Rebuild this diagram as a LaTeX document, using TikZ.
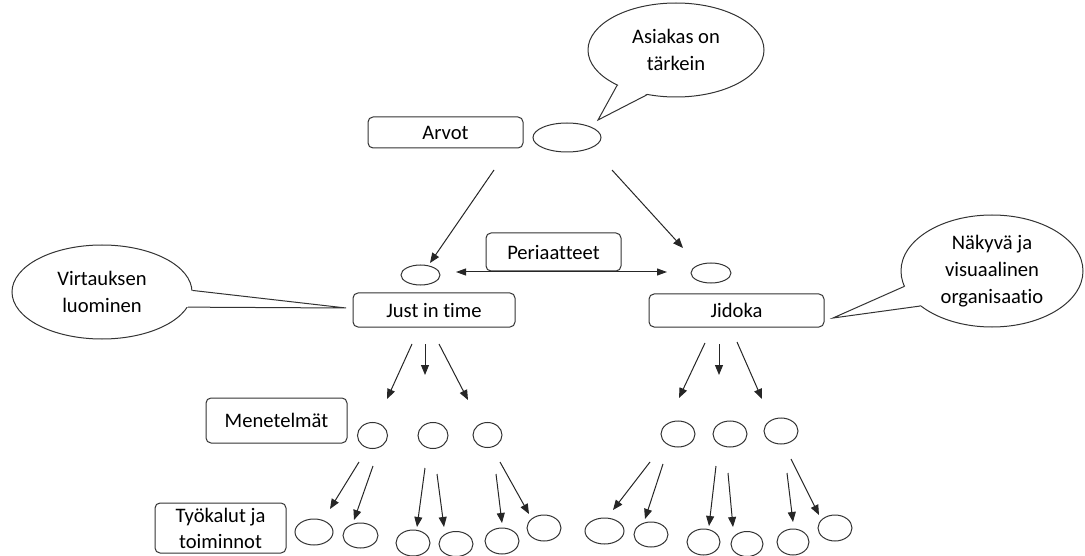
\documentclass[tikz,border=0pt]{standalone}
\usepackage{fontspec}
\setmainfont{Carlito}[Ligatures=NoCommon]
\usetikzlibrary{shapes.geometric,arrows.meta,calc}
\begin{document}
\begin{tikzpicture}[x=1pt,y=-1pt,
  outline/.style={draw=black!80, line width=1pt},
  labelbox/.style={outline, rounded corners=5pt, inner sep=0pt, align=center,
    font=\fontsize{20.6}{26}\selectfont},
  bubble/.style={outline, ellipse, inner sep=0pt, fill=white, align=center,
    font=\fontsize{20.6}{27}\selectfont},
  dot/.style={outline, ellipse, inner sep=0pt},
  arr/.style={line width=1pt, draw=black!85, -{Triangle[length=10pt,width=8pt]}},
  dblarr/.style={line width=1pt, draw=black!85,
    {Triangle[length=10pt,width=7pt]}-{Triangle[length=10pt,width=7pt]}},
]
\useasboundingbox (0,0) rectangle (1085,556);

% level labels
\node[labelbox, minimum width=155pt, minimum height=31pt] (arvot) at (445.5,132.5) {Arvot};
\node[labelbox, minimum width=135pt, minimum height=38pt] (periaatteet) at (553.5,252) {Periaatteet};
\node[labelbox, minimum width=162pt, minimum height=34pt] (jit) at (434,310) {Just in time};
\node[labelbox, minimum width=175pt, minimum height=33pt] (jidoka) at (736.5,310.5) {Jidoka};
\node[labelbox, minimum width=141pt, minimum height=45pt] (menetelmat) at (276.5,420.5) {Menetelmät};
\node[labelbox, minimum width=131pt, minimum height=50pt] (tyokalut) at (220.5,528) {Työkalut ja\\toiminnot};

% small ellipses
\node[dot, minimum width=68pt, minimum height=29pt] (vtop) at (567,137.5) {};
\node[dot, minimum width=39pt, minimum height=20pt] (vjit) at (420.5,275) {};
\node[dot, minimum width=40pt, minimum height=20pt] (vjid) at (711,273) {};

\foreach \n/\cx/\cy/\w/\h in {
  ml1/372.5/435.5/30/26, ml2/433/435.5/30/26, ml3/487.5/435/29/25,
  mr1/678/434/34/26, mr2/730/434/34/26, mr3/781/431/34/26,
  bl1/314/532/38/26, bl2/360.5/535.5/35/25, bl3/413/543/34/26,
  bl4/456/544/34/25, bl5/502/541/34/26, bl6/544/528/34/26,
  br1/604.5/531/39/26, br2/651/534.5/34/25, br3/703.5/542/33/26,
  br4/747/544/32/25, br5/793/542/32/26, br6/835/528/34/26}
  \node[dot, minimum width=\w pt, minimum height=\h pt] (\n) at (\cx,\cy) {};

% arrows
\foreach \n/\sx/\sy/\ex/\ey in {
  t1/494/170/430/263, t2/612/170/683/248,
  j1/412/344/387/399, j2/425/344/425/375, j3/439/344/468/400,
  k1/705/343/679/398, k2/719/344/719/375, k3/737/342/762/399,
  l1/359/462/330/509, l2/373/466/354/520, l3/425/468/417/527,
  l4/437/474/444/527, l5/496/474/502/523, l6/500/462/529/514,
  r1/650/462/613/510, r2/663/464/645/519, r3/716/466/709/526,
  r4/728/473/733/527, r5/787/473/793/522, r6/791/459/819/515}
{
  \coordinate (s\n) at (\sx,\sy);
  \coordinate (e\n) at (\ex,\ey);
  \draw[arr] (s\n) -- (e\n);
}
\coordinate (pl) at (456,272);
\coordinate (pr) at (667,272);
\draw[dblarr] (pl) -- (pr);

% speech bubbles
\node[bubble, minimum width=176pt, minimum height=94pt] (asiakas) at (676,50) {Asiakas on\\tärkein};
\coordinate (asiakastip) at (598,120);
\node[bubble, minimum width=180pt, minimum height=94pt] (virtaus) at (102,292) {Virtauksen\\luominen};
\coordinate (virtaustip) at (346,308);
\node[bubble, minimum width=182pt, minimum height=112pt] (nakyva) at (992,271) {Näkyvä ja\\visuaalinen\\organisaatio};
\coordinate (nakyvatip) at (833,318);

\foreach \b/\aa/\ab in {asiakas/211.8/237.5, virtaus/1.9/350, nakyva/190.4/206.2}
{
  \fill[white] ($(\b.\aa)!2pt!(\b.center)$) -- (\b tip) -- ($(\b.\ab)!2pt!(\b.center)$) -- cycle;
  \draw[outline, line join=miter] (\b.\aa) -- (\b tip) -- (\b.\ab);
}
\end{tikzpicture}
\end{document}
